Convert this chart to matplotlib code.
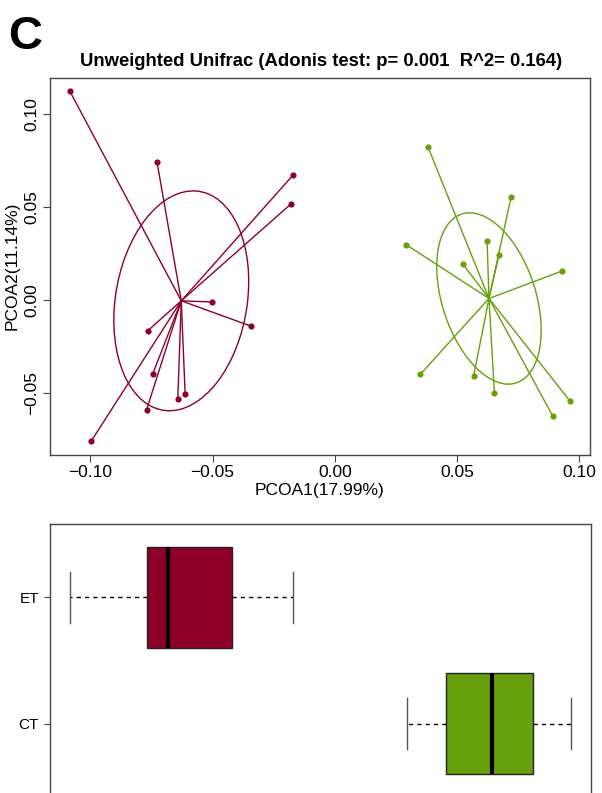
import numpy as np
import matplotlib
matplotlib.use('Agg')
import matplotlib.pyplot as plt
from matplotlib.patches import Ellipse

plt.rcParams['font.family'] = ['Liberation Sans', 'DejaVu Sans']

# PCoA coordinates (axis 1, axis 2) per sample
et_x = [-0.1083, -0.0727, -0.0171, -0.0180, -0.0503, -0.0341,
        -0.0765, -0.0745, -0.0612, -0.0642, -0.0770, -0.0996]
et_y = [0.1120, 0.0740, 0.0670, 0.0514, -0.0012, -0.0143,
        -0.0167, -0.0400, -0.0509, -0.0532, -0.0593, -0.0760]
ct_x = [0.0382, 0.0721, 0.0292, 0.0623, 0.0671, 0.0525,
        0.0929, 0.0350, 0.0568, 0.0653, 0.0962, 0.0891]
ct_y = [0.0819, 0.0552, 0.0296, 0.0315, 0.0238, 0.0190,
        0.0154, -0.0401, -0.0409, -0.0504, -0.0545, -0.0625]

groups = ['ET', 'CT']
colors = {'ET': '#8E0028', 'CT': '#66A00C'}
coords = {'ET': (np.array(et_x), np.array(et_y)),
          'CT': (np.array(ct_x), np.array(ct_y))}

title = 'Unweighted Unifrac (Adonis test: p= 0.001  R^2= 0.164)'
xlab = 'PCOA1(17.99%)'
ylab = 'PCOA2(11.14%)'
ticks = [-0.10, -0.05, 0.00, 0.05, 0.10]
tick_labels = ['\u22120.10', '\u22120.05', '0.00', '0.05', '0.10']
y_ticks = [-0.05, 0.00, 0.05, 0.10]
y_tick_labels = ['\u22120.05', '0.00', '0.05', '0.10']

W, H = 602, 793
fig = plt.figure(figsize=(W / 100, H / 100), dpi=100)


def frame(ax):
    for s in ax.spines.values():
        s.set_color('#444444')
        s.set_linewidth(1.0)


def padded(vals):
    lo, hi = min(vals), max(vals)
    d = (hi - lo) * 0.04
    return lo - d, hi + d


all_x = et_x + ct_x
all_y = et_y + ct_y
xlim = padded(all_x)
ylim = padded(all_y)

# --- ordination with star lines and covariance ellipses ---
ax1 = fig.add_axes([50 / W, 1 - 455 / H, 540 / W, 377.5 / H])
for g in groups:
    x, y = coords[g]
    c = colors[g]
    mx, my = x.mean(), y.mean()
    for xi, yi in zip(x, y):
        ax1.plot([mx, xi], [my, yi], color=c, lw=1.0, zorder=2)
    ax1.scatter(x, y, s=20, color=c, zorder=3, linewidths=0)
    cov = np.cov(np.vstack([x, y]), bias=True)
    vals, vecs = np.linalg.eigh(cov)
    order = vals.argsort()[::-1]
    vals, vecs = vals[order], vecs[:, order]
    angle = np.degrees(np.arctan2(vecs[1, 0], vecs[0, 0]))
    ax1.add_patch(Ellipse((mx, my), 2 * np.sqrt(vals[0]), 2 * np.sqrt(vals[1]),
                          angle=angle, fill=False, edgecolor=c, lw=1.0, zorder=2))

ax1.set_xlim(xlim)
ax1.set_ylim(ylim)
ax1.set_xticks(ticks)
ax1.set_xticklabels(tick_labels)
ax1.set_yticks(y_ticks)
ax1.set_yticklabels(y_tick_labels, rotation=90, va='center')
ax1.tick_params(axis='both', length=5, width=0.8, color='#444444',
                labelsize=12.5, pad=2.5)
frame(ax1)

fig.text(8 / W, 1 - 37 / H, 'C', fontsize=34, fontweight='bold',
         ha='left', va='center')
fig.text(321 / W, 1 - 61 / H, title, fontsize=13.3, fontweight='bold',
         ha='center', va='center')
fig.text(320 / W, 1 - 490 / H, xlab, fontsize=12.5, ha='center', va='center')
fig.text(12 / W, 1 - 266 / H, ylab, fontsize=12.5, ha='center', va='center',
         rotation=90)

# --- boxplot of axis 1 by group (Tukey hinges) ---
ax2 = fig.add_axes([50 / W, 1 - 797 / H, 541 / W, 273 / H])


def box_stats(vals, label):
    v = np.sort(np.asarray(vals))
    n = len(v)
    med = np.median(v)
    half = (n + 1) // 2
    q1 = np.median(v[:half])
    q3 = np.median(v[n - half:])
    iqr = q3 - q1
    lo = v[v >= q1 - 1.5 * iqr].min()
    hi = v[v <= q3 + 1.5 * iqr].max()
    return dict(med=med, q1=q1, q3=q3, whislo=lo, whishi=hi,
                fliers=[], label=label)


stats = [box_stats(ct_x, 'CT'), box_stats(et_x, 'ET')]
bp = ax2.bxp(stats, positions=[1, 2], widths=0.8, capwidths=0.4,
             orientation='horizontal', patch_artist=True, showfliers=False,
             boxprops=dict(edgecolor='#222222', lw=1.0),
             medianprops=dict(color='black', lw=3),
             whiskerprops=dict(color='black', lw=1.0, linestyle=(0, (3, 3))),
             capprops=dict(color='#555555', lw=1.0))
for patch, g in zip(bp['boxes'], ['CT', 'ET']):
    patch.set_facecolor(colors[g])

ax2.set_xlim(xlim)
ax2.set_ylim(0.42, 2.58)
ax2.set_yticks([1, 2])
ax2.set_yticklabels(['CT', 'ET'])
ax2.set_xticks([])
ax2.tick_params(axis='y', length=4, width=0.8, color='#444444',
                labelsize=11, pad=4)
frame(ax2)

fig.savefig('out.png', dpi=100)
